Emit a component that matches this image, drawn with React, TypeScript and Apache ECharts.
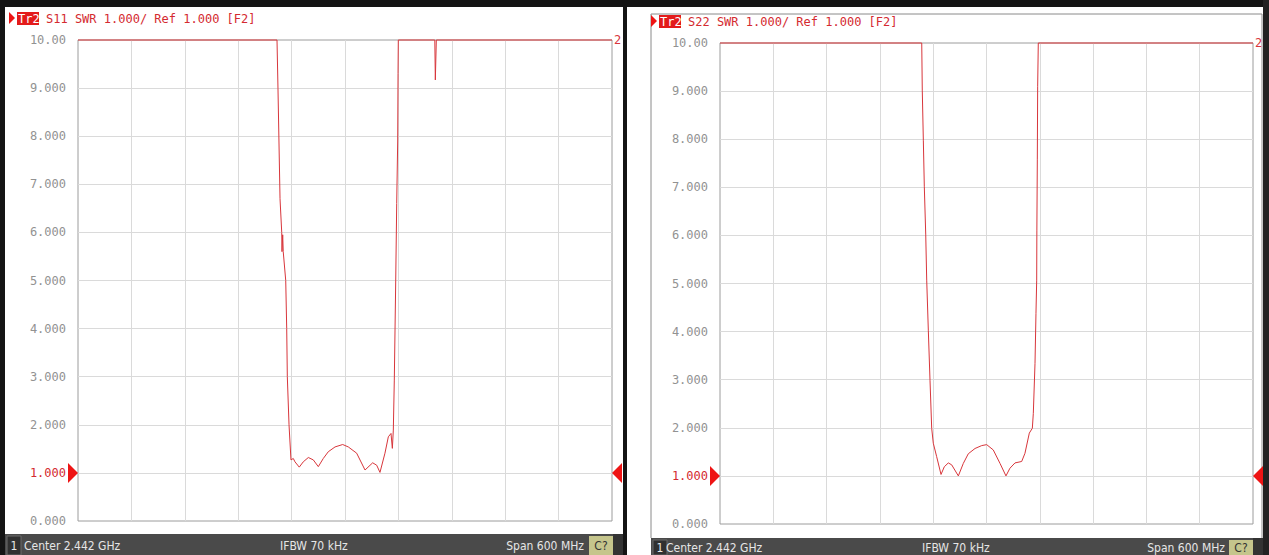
import React, { useEffect, useRef } from "react";
import * as echarts from "echarts";

// Frequency axis: center 2.442 GHz, span 600 MHz
const CENTER_MHZ = 2442;
const HALF_SPAN_MHZ = 300;
const DIV_MHZ = 60;

// SWR scale
const SWR_MIN = 0;
const SWR_MAX = 10;
const SWR_STEP = 1;
const REF_SWR = 1;

// S11 trace (left panel)
const s11FreqMHz = [
  2142, 2365.6, 2366.7, 2369.0, 2370.9, 2371.2, 2372.0, 2372.6, 2375.4, 2376.5,
  2377.2, 2379.1, 2381.3, 2383.9, 2385.8, 2390.6, 2395.1, 2400.8, 2406.4, 2412.0,
  2417.6, 2423.2, 2430.8, 2439.4, 2445.7, 2455.1, 2464.5, 2473.1, 2477.6, 2481.3,
  2486.9, 2490.7, 2493.7, 2495.2, 2496.3, 2497.4, 2498.2, 2499.0, 2500.1, 2501.2,
  2501.6, 2501.9, 2542.9, 2543.5, 2544.6, 2742,
];
const s11Swr = [
  10, 10, 9.0, 6.7, 6.0, 5.6, 5.95, 5.6, 5.0, 4.0,
  3.0, 2.0, 1.27, 1.30, 1.23, 1.12, 1.23, 1.32, 1.27, 1.13,
  1.30, 1.44, 1.54, 1.59, 1.54, 1.41, 1.06, 1.21, 1.16, 1.01,
  1.41, 1.75, 1.82, 1.51, 1.89, 2.93, 3.97, 5.01, 6.6, 7.9,
  9.3, 10, 10, 9.17, 10, 10,
];

// S22 trace (right panel)
const s22FreqMHz = [
  2142, 2369.1, 2369.7, 2370.9, 2372.0, 2373.6, 2374.7, 2376.5, 2378.4, 2380.3,
  2382.1, 2385.9, 2390.8, 2394.5, 2399.0, 2402.8, 2410.3, 2415.9, 2421.5, 2429.1,
  2436.6, 2442.2, 2449.6, 2457.2, 2463.9, 2468.4, 2474.1, 2481.6, 2485.3, 2490.2,
  2493.6, 2494.7, 2496.6, 2497.7, 2498.5, 2498.7, 2499.2, 2499.6, 2500.3, 2742,
];
const s22Swr = [
  10, 10, 9.02, 7.98, 7.01, 6.01, 5.07, 4.03, 2.99, 1.99,
  1.68, 1.40, 1.03, 1.19, 1.27, 1.23, 1.00, 1.26, 1.46, 1.57,
  1.63, 1.65, 1.54, 1.26, 1.00, 1.16, 1.27, 1.30, 1.47, 1.89,
  1.99, 2.30, 3.34, 4.38, 5.07, 6.11, 7.57, 9.09, 10, 10,
];

const headerLeft = "S11 SWR 1.000/ Ref 1.000 [F2]";
const headerRight = "S22 SWR 1.000/ Ref 1.000 [F2]";
const statusCenter = "Center 2.442 GHz";
const statusIfbw = "IFBW 70 kHz";
const statusSpan = "Span 600 MHz";

const TRACE = "#d8363b";
const MARK = "#ee1414";
const GRAY_LABEL = "#929292";
const MONO = '"DejaVu Sans Mono", "Liberation Mono", monospace';
const SANS = '"DejaVu Sans Condensed", "Liberation Sans", Arial, sans-serif';

function App() {
  const ref = useRef<HTMLDivElement>(null);

  useEffect(() => {
    if (!ref.current) return;
    const chart = echarts.init(ref.current, undefined, { renderer: "svg" });

    const grids = [
      { left: 78, top: 40, width: 534, height: 481 },
      { left: 720, top: 43, width: 533, height: 481 },
    ];

    const mkData = (f: number[], s: number[]) => f.map((v, i) => [v - CENTER_MHZ, s[i]]);

    const markers = {
      silent: true,
      label: { show: false },
      itemStyle: { color: MARK },
      data: [
        {
          coord: [-HALF_SPAN_MHZ, REF_SWR],
          symbol: "path://M0,0L10,10L0,20Z",
          symbolSize: [10, 20],
          symbolOffset: [-5, 0],
        },
        {
          coord: [HALF_SPAN_MHZ, REF_SWR],
          symbol: "path://M10,0L0,10L10,20Z",
          symbolSize: [10, 20],
          symbolOffset: [5, 0],
        },
      ],
    };

    const series = [mkData(s11FreqMHz, s11Swr), mkData(s22FreqMHz, s22Swr)].map((d, i) => ({
      type: "line",
      xAxisIndex: i,
      yAxisIndex: i,
      data: d,
      showSymbol: false,
      symbol: "none",
      clip: false,
      lineStyle: { color: TRACE, width: 1 },
      endLabel: {
        show: true,
        formatter: "2",
        color: TRACE,
        fontFamily: MONO,
        fontSize: 12,
        distance: 2,
      },
      markPoint: markers,
      z: 5,
    }));

    const hdr = (x: number, y: number, text: string) => [
      {
        type: "polygon",
        shape: { points: [[x, y], [x + 6, y + 6], [x, y + 12]] },
        style: { fill: MARK },
      },
      {
        type: "rect",
        shape: { x: x + 8, y: y, width: 22, height: 13 },
        style: { fill: "#e31b1b" },
      },
      {
        type: "text",
        x: x + 9,
        y: y + 6.5,
        style: { text: "Tr2", fill: "#ffffff", font: `12px ${MONO}`, verticalAlign: "middle" },
      },
      {
        type: "text",
        x: x + 37,
        y: y + 6.5,
        style: { text, fill: "#d42a30", font: `12px ${MONO}`, verticalAlign: "middle" },
      },
    ];

    const status = (
      x0: number,
      y0: number,
      w: number,
      h: number,
      centerX: number,
      ifbwX: number,
      spanRight: number,
      cX: number
    ) => {
      const cy = y0 + h / 2 + 1;
      const f = `12px ${SANS}`;
      return [
        { type: "rect", shape: { x: x0, y: y0, width: w, height: h }, style: { fill: "#4a4a4a" } },
        {
          type: "rect",
          shape: { x: x0 + 2, y: y0 + 2, width: 14, height: h - 2 },
          style: { fill: "#303030", stroke: "#6a6a6a", lineWidth: 1 },
        },
        {
          type: "text",
          x: x0 + 9,
          y: cy,
          style: { text: "1", fill: "#e6e6e6", font: f, align: "center", verticalAlign: "middle" },
        },
        {
          type: "text",
          x: centerX,
          y: cy,
          style: { text: statusCenter, fill: "#e6e6e6", font: f, verticalAlign: "middle" },
        },
        {
          type: "text",
          x: ifbwX,
          y: cy,
          style: { text: statusIfbw, fill: "#e6e6e6", font: f, verticalAlign: "middle" },
        },
        {
          type: "text",
          x: spanRight,
          y: cy,
          style: { text: statusSpan, fill: "#e6e6e6", font: f, align: "right", verticalAlign: "middle" },
        },
        {
          type: "rect",
          shape: { x: cX, y: y0 + 2, width: 24, height: h - 2 },
          style: { fill: "#c5c58c" },
        },
        {
          type: "text",
          x: cX + 12,
          y: cy,
          style: { text: "C?", fill: "#333333", font: f, align: "center", verticalAlign: "middle" },
        },
        {
          type: "rect",
          shape: { x: cX + 24, y: y0, width: 10, height: h },
          style: { fill: "#333333" },
        },
      ];
    };

    const graphic = [
      // outer frames
      { type: "rect", shape: { x: 0, y: 0, width: 1269, height: 7 }, style: { fill: "#141414" } },
      { type: "rect", shape: { x: 0, y: 0, width: 5, height: 555 }, style: { fill: "#141414" } },
      { type: "rect", shape: { x: 623, y: 0, width: 4, height: 555 }, style: { fill: "#141414" } },
      { type: "line", shape: { x1: 651, y1: 14, x2: 1262, y2: 14 }, style: { stroke: "#8a8a8a", lineWidth: 1 } },
      { type: "line", shape: { x1: 651, y1: 14, x2: 651, y2: 538 }, style: { stroke: "#8a8a8a", lineWidth: 1 } },
      { type: "line", shape: { x1: 1262, y1: 14, x2: 1262, y2: 538 }, style: { stroke: "#8a8a8a", lineWidth: 1 } },
      { type: "rect", shape: { x: 1263, y: 0, width: 6, height: 555 }, style: { fill: "#222222" } },
      ...hdr(9, 12, headerLeft),
      ...hdr(651, 15, headerRight),
      ...status(5, 534, 618, 21, 24, 280, 584, 589),
      ...status(651, 538, 612, 17, 666, 922, 1225, 1229),
    ];

    chart.setOption({
      animation: false,
      backgroundColor: "#ffffff",
      grid: grids.map((g) => ({
        ...g,
        show: true,
        borderColor: "#9c9c9c",
        borderWidth: 1,
        backgroundColor: "transparent",
      })),
      xAxis: [0, 1].map((i) => ({
        type: "value",
        gridIndex: i,
        min: -HALF_SPAN_MHZ,
        max: HALF_SPAN_MHZ,
        interval: DIV_MHZ,
        axisLine: { show: false },
        axisTick: { show: false },
        axisLabel: { show: false },
        splitLine: { show: true, showMinLine: false, showMaxLine: false, lineStyle: { color: "#dadada", width: 1 } },
      })),
      yAxis: [0, 1].map((i) => ({
        type: "value",
        gridIndex: i,
        min: SWR_MIN,
        max: SWR_MAX,
        interval: SWR_STEP,
        axisLine: { show: false },
        axisTick: { show: false },
        axisLabel: {
          margin: 12,
          fontFamily: MONO,
          fontSize: 12,
          showMinLabel: true,
          showMaxLabel: true,
          color: (v: any) => (Number(v) === REF_SWR ? "#d42a30" : GRAY_LABEL),
          formatter: (v: number) => (v >= 10 ? v.toFixed(2) : v.toFixed(3)),
        },
        splitLine: { show: true, showMinLine: false, showMaxLine: false, lineStyle: { color: "#dadada", width: 1 } },
      })),
      series,
      graphic,
    });

    return () => chart.dispose();
  }, []);

  return (
    <div
      ref={ref}
      style={{ position: "absolute", left: 0, top: 0, width: 1269, height: 555, background: "#fff" }}
    />
  );
}

export default App;
